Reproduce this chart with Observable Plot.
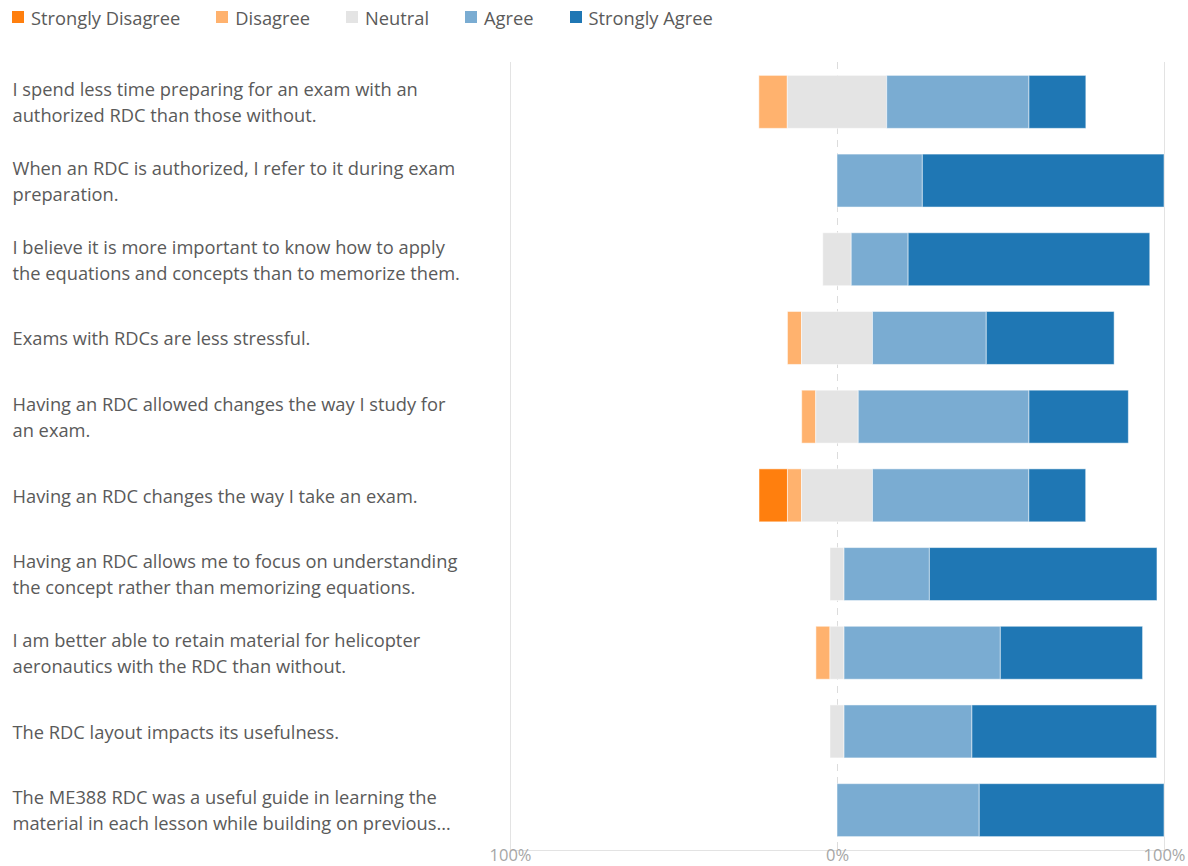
<!DOCTYPE html>
<html>
<head>
<meta charset="utf-8">
<script src="https://cdn.jsdelivr.net/npm/d3@7"></script>
<script src="https://cdn.jsdelivr.net/npm/@observablehq/plot@0.6"></script>
<style>
  body { margin: 0; background: #fff; font-family: "Open Sans", sans-serif; }
  #legend { display: flex; align-items: center; height: 34px; padding-left: 12px; gap: 36px; font-size: 18.3px; color: #5a5a5a; }
  #legend .item { display: flex; align-items: center; }
  #legend .sw { width: 12px; height: 12px; margin-right: 7px; display: inline-block; }
  #chart svg { display: block; }
</style>
</head>
<body>
<div id="legend"></div>
<div id="chart"></div>
<script>
const questions = [
  "I spend less time preparing for an exam with an\nauthorized RDC than those without.",
  "When an RDC is authorized, I refer to it during exam\npreparation.",
  "I believe it is more important to know how to apply\nthe equations and concepts than to memorize them.",
  "Exams with RDCs are less stressful.",
  "Having an RDC allowed changes the way I study for\nan exam.",
  "Having an RDC changes the way I take an exam.",
  "Having an RDC allows me to focus on understanding\nthe concept rather than memorizing equations.",
  "I am better able to retain material for helicopter\naeronautics with the RDC than without.",
  "The RDC layout impacts its usefulness.",
  "The ME388 RDC was a useful guide in learning the\nmaterial in each lesson while building on previous…"
];
const levels = ["Strongly Disagree", "Disagree", "Neutral", "Agree", "Strongly Agree"];
const colors = ["#ff7f0e", "#ffb26e", "#e4e4e4", "#7aacd2", "#1f77b4"];
const stronglyDisagree = [0, 0, 0, 0, 0, 8.7, 0, 0, 0, 0];
const disagree         = [8.7, 0, 0, 4.3, 4.3, 4.3, 0, 4.3, 0, 0];
const neutral          = [30.4, 0, 8.7, 21.7, 13.0, 21.7, 4.3, 4.3, 4.3, 0];
const agree            = [43.5, 26.1, 17.4, 34.8, 52.2, 47.8, 26.1, 47.8, 39.1, 43.5];
const stronglyAgree    = [17.4, 73.9, 73.9, 39.1, 30.4, 17.4, 69.6, 43.5, 56.5, 56.5];
const xTicks = [-100, 0, 100];

const series = [stronglyDisagree, disagree, neutral, agree, stronglyAgree];
const rows = [];
questions.forEach((q, i) => {
  let x = -(stronglyDisagree[i] + disagree[i] + neutral[i] / 2);
  levels.forEach((lv, j) => {
    const v = series[j][i];
    if (v > 0) rows.push({question: q, level: lv, x1: x, x2: x + v});
    x += v;
  });
});

// legend
const legend = document.getElementById("legend");
levels.forEach((lv, j) => {
  const it = document.createElement("div");
  it.className = "item";
  it.innerHTML = `<span class="sw" style="background:${colors[j]}"></span>${lv}`;
  legend.appendChild(it);
});

const chart = Plot.plot({
  width: 1188,
  height: 832,
  marginLeft: 510,
  marginRight: 24,
  marginTop: 28,
  marginBottom: 16,
  style: {fontFamily: "Open Sans, sans-serif", background: "#fff"},
  x: {domain: [-100, 100], axis: null},
  y: {domain: questions, axis: null, paddingInner: 0.327, paddingOuter: 0.17, round: false},
  color: {domain: levels, range: colors},
  marks: [
    Plot.ruleX([-100, 100], {stroke: "#e3e3e3", strokeWidth: 1}),
    Plot.ruleX([0], {stroke: "#dcdcdc", strokeWidth: 1, strokeDasharray: "7,6"}),
    Plot.frame({anchor: "bottom", stroke: "#e3e3e3"}),
    Plot.barX(rows, {
      x1: "x1", x2: "x2", y: "question", fill: "level",
      stroke: "white", strokeWidth: 1, strokeOpacity: 0.5
    }),
    Plot.text(questions, {
      y: d => d, frameAnchor: "left", dx: -498, dy: -1.5, textAnchor: "start",
      text: d => d, fontSize: 18.3, fill: "#5a5a5a", lineHeight: 1.42
    }),
    Plot.text(xTicks, {
      x: d => d, frameAnchor: "bottom", dy: 10, text: d => Math.abs(d) + "%",
      fontSize: 16.5, fill: "#a6a6a6"
    })
  ]
});
document.getElementById("chart").appendChild(chart);
</script>
</body>
</html>
